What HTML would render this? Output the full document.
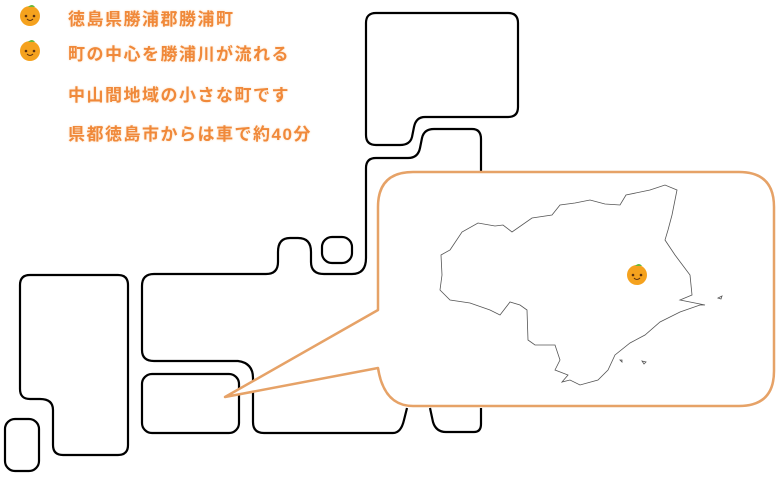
<!DOCTYPE html>
<html><head><meta charset="utf-8"><style>
body{margin:0;background:#fff;width:780px;height:500px;overflow:hidden;position:relative;font-family:"Liberation Sans","Noto Sans CJK JP",sans-serif}
.t{position:absolute;left:68px;font-size:17px;font-weight:bold;color:#f0893a;text-shadow:0 0 2px #fbd9b8;white-space:nowrap;letter-spacing:1.5px}
svg{position:absolute;left:0;top:0}
</style></head><body>
<svg width="780" height="500" viewBox="0 0 780 500">
<defs><g id="m"><circle r="10" fill="#f5a21e"/><path d="M-2,-9 Q2,-13 5,-9 Z" fill="#6cb83a"/><circle cx="-4" cy="0" r="1.3" fill="#5a3010"/><circle cx="4" cy="0" r="1.3" fill="#5a3010"/><path d="M-3,3 Q0,6 3,3" stroke="#5a3010" stroke-width="1" fill="none"/></g></defs>
<g fill="none" stroke="#000" stroke-width="2.2" stroke-linejoin="round">
<path d="M376,13 H508 Q518,13 518,23 V107 Q518,117 508,117 H425 Q416,117 414,127 L412,137 Q410,145 400,145 H376 Q366,145 366,135 V23 Q366,13 376,13 Z"/>
<path d="M366,172 V168 Q366,158 376,158 H408 Q418,158 420,148 L422,138 Q424,129 434,129 H472 Q481,129 481,139 V172"/>
<path d="M366,172 V258 Q366,274 352,274 H324 Q311,274 311,262 V252 Q311,238 298,238 H290 Q278,238 278,252 V262 Q278,274 266,274 H154 Q142,274 142,286 V350 Q142,361 154,361 H238 Q253,363 253,378 V422 Q253,433 264,433 H393 Q401,433 404,420 L407,408"/>
<path d="M430,408 L433,422 Q436,432 446,432 H474 Q481,432 481,424 V408"/>
<rect x="322" y="237" width="30" height="26" rx="10"/>
<path d="M30,275 H118 Q128,275 128,285 V445 Q128,455 118,455 H63 Q53,455 53,445 V410 Q53,399 40,399 H30 Q20,399 20,389 V285 Q20,275 30,275 Z"/>
<rect x="5" y="419" width="34" height="52" rx="10"/>
<rect x="142" y="374" width="97" height="59" rx="10"/>
</g>
<path d="M413,172 H739 Q774,172 774,207 V371 Q774,406 739,406 H413 Q384,406 378,368 L225,397 L378,310 V207 Q378,172 413,172 Z" fill="#fff" stroke="#e6a267" stroke-width="2.5" stroke-linejoin="round"/>
<path d="M450,250 L462,232 478,223 495,226 503,225 512,232 532,218 552,215 560,205 575,203 590,200 605,204 620,205 626,195 650,190 665,185 677,190 672,215 668,230 665,240 675,255 690,275 692,295 680,300 705,305 700,305 680,312 660,322 645,335 630,343 615,355 608,370 598,380 580,385 570,380 562,382 568,375 555,370 560,360 555,345 535,345 528,340 527,310 520,305 510,302 500,315 490,310 470,303 450,300 440,290 442,275 441,255 Z M718,298 l4,-2 -1,3 z M620,360 l2,0 0,2z M642,361 l4,1 -2,2z" fill="none" stroke="#555" stroke-width="0.8"/>
<use href="#m" x="637" y="275"/>
<use href="#m" x="30" y="16"/>
<use href="#m" x="30" y="51"/>
</svg>
<div class="t" style="top:5px">徳島県勝浦郡勝浦町</div>
<div class="t" style="top:40px">町の中心を勝浦川が流れる</div>
<div class="t" style="top:81px">中山間地域の小さな町です</div>
<div class="t" style="top:120px">県都徳島市からは車で約40分</div>
</body></html>
